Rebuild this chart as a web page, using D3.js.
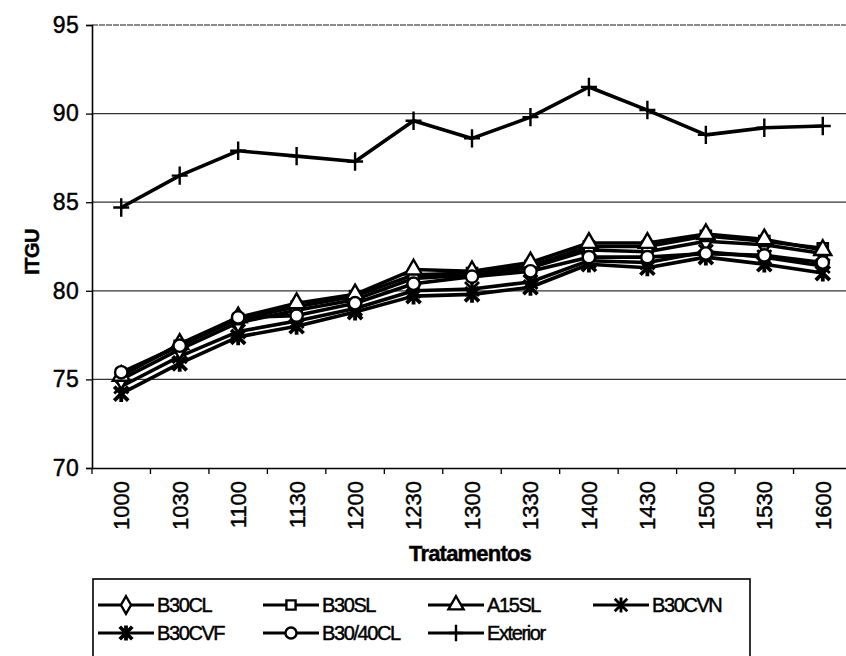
<!DOCTYPE html>
<html>
<head>
<meta charset="utf-8">
<script src="https://cdn.jsdelivr.net/npm/d3@7"></script>
<style>
  body { margin: 0; background: #fff; }
  text { font-family: "Liberation Sans", Arial, sans-serif; fill: #000; stroke: #000; stroke-width: 0.45; }
</style>
</head>
<body>
<script>
const categories = ["1000", "1030", "1100", "1130", "1200", "1230", "1300", "1330", "1400", "1430", "1500", "1530", "1600"];
const yTicks = [70, 75, 80, 85, 90, 95];

const b30cl   = [75.0, 76.7, 78.2, 78.9, 79.5, 80.7, 80.9, 81.3, 82.3, 82.2, 82.8, 82.6, 82.1];
const b30sl   = [75.3, 76.9, 78.4, 79.1, 79.7, 80.9, 81.0, 81.4, 82.5, 82.5, 83.1, 82.8, 82.4];
const a15sl   = [75.2, 77.0, 78.5, 79.3, 79.8, 81.2, 81.1, 81.6, 82.7, 82.7, 83.2, 82.9, 82.3];
const b30cvn  = [74.6, 76.3, 77.7, 78.3, 79.0, 80.0, 80.1, 80.5, 81.7, 81.6, 82.2, 81.9, 81.4];
const b30cvf  = [74.2, 75.9, 77.4, 78.0, 78.8, 79.7, 79.8, 80.2, 81.5, 81.3, 81.9, 81.5, 81.0];
const b3040cl = [75.4, 76.9, 78.5, 78.6, 79.3, 80.4, 80.8, 81.1, 81.9, 81.9, 82.1, 82.0, 81.6];
const exterior = [84.7, 86.5, 87.9, 87.6, 87.3, 89.6, 88.6, 89.8, 91.5, 90.2, 88.8, 89.2, 89.3];

const series = [
    { name: "B30CL", marker: "diamond", values: b30cl },
    { name: "B30SL", marker: "square", values: b30sl },
    { name: "A15SL", marker: "triangle", values: a15sl },
    { name: "B30CVN", marker: "star", values: b30cvn },
    { name: "B30CVF", marker: "starBold", values: b30cvf },
    { name: "B30/40CL", marker: "circle", values: b3040cl },
    { name: "Exterior", marker: "plus", values: exterior }
];
// drawing order in the plot (last one on top)
const drawOrder = ["Exterior", "B30CVF", "B30CVN", "B30CL", "B30SL", "A15SL", "B30/40CL"];

const margin = { top: 25, left: 92 };
const width = 760, height = 443;

const svg = d3.select("body").append("svg")
    .attr("width", 846)
    .attr("height", 656);

const g = svg.append("g")
    .attr("transform", `translate(${margin.left}, ${margin.top})`);

const x = d3.scaleBand().domain(categories).range([0, width]);
const y = d3.scaleLinear().domain([70, 95]).range([height, 0]);
const cx = c => x(c) + x.bandwidth() / 2;

// gridlines
g.selectAll(".grid")
    .data(yTicks.filter(d => d > 70 && d < 95))
    .enter().append("line")
    .attr("x1", 0).attr("x2", width)
    .attr("y1", d => y(d)).attr("y2", d => y(d))
    .attr("stroke", "#333").attr("stroke-width", 1.3);

// top border
g.append("line")
    .attr("x1", 0).attr("x2", width)
    .attr("y1", 0).attr("y2", 0)
    .attr("stroke", "#666").attr("stroke-width", 1.3)
    .attr("stroke-dasharray", "6,1");

// y axis
const yAxis = g.append("g")
    .call(d3.axisLeft(y).tickValues(yTicks).tickSize(6).tickPadding(7));
yAxis.select(".domain").attr("stroke", "#000").attr("stroke-width", 1.6);
yAxis.selectAll(".tick line").attr("stroke", "#000").attr("stroke-width", 1.3);
yAxis.selectAll("text")
    .attr("font-size", 23)
    .attr("font-family", "Liberation Sans, Arial, sans-serif")
    .attr("letter-spacing", 0.3);

// x axis
const xAxis = g.append("g")
    .attr("transform", `translate(0, ${height})`)
    .call(d3.axisBottom(x).tickSize(0).tickPadding(0));
xAxis.select(".domain").attr("stroke", "#000").attr("stroke-width", 1.6);
xAxis.selectAll("text")
    .attr("font-size", 22)
    .attr("font-family", "Liberation Sans, Arial, sans-serif")
    .attr("text-anchor", "end")
    .attr("transform", "rotate(-90)")
    .attr("x", -13)
    .attr("y", 0)
    .attr("dy", "0.36em");

// tick marks between categories
g.selectAll(".xtick")
    .data(categories)
    .enter().append("line")
    .attr("x1", d => x(d)).attr("x2", d => x(d))
    .attr("y1", height).attr("y2", height + 6)
    .attr("stroke", "#000").attr("stroke-width", 1.3);

// axis titles
svg.append("text")
    .attr("x", margin.left + width / 2 - 2)
    .attr("y", 561)
    .attr("text-anchor", "middle")
    .attr("font-size", 22)
    .attr("font-weight", "bold")
    .attr("letter-spacing", -0.8)
    .text("Tratamentos");

svg.append("text")
    .attr("transform", `translate(39, ${margin.top + y(82.2)}) rotate(-90)`)
    .attr("text-anchor", "middle")
    .attr("font-size", 20)
    .attr("font-weight", "bold")
    .attr("letter-spacing", -0.5)
    .text("ITGU");

function markerPath(type, s) {
    switch (type) {
        case "diamond": return d3.symbol(d3.symbolDiamond, 110 * s)();
        case "square": return d3.symbol(d3.symbolSquare, 105 * s)();
        case "triangle": return d3.symbol(d3.symbolTriangle, 125 * s)();
        case "circle": return d3.symbol(d3.symbolCircle, 120 * s)();
        case "star":
        case "starBold": {
            const r = 7 * Math.sqrt(s);
            return `M${-r},${-r}L${r},${r}M${-r},${r}L${r},${-r}M0,${-r * 1.2}V${r * 1.2}`;
        }
        case "plus": {
            const r = 8 * Math.sqrt(s);
            return `M${-r},0H${r}M0,${-r * 1.15}V${r * 1.15}`;
        }
    }
}

function drawMarker(sel, type, s) {
    const open = ["diamond", "square", "triangle", "circle"].includes(type);
    sel.append("path")
        .attr("d", markerPath(type, s))
        .attr("fill", open ? "#fff" : "none")
        .attr("stroke", "#000")
        .attr("stroke-width", type === "starBold" ? 3.8 : (type === "star" ? 2.8 : 2.4));
}

const line = d3.line()
    .x((d, i) => cx(categories[i]))
    .y(d => y(d));

drawOrder.forEach(name => {
    const s = series.find(d => d.name === name);
    g.append("path")
        .datum(s.values)
        .attr("d", line)
        .attr("fill", "none")
        .attr("stroke", "#000")
        .attr("stroke-width", 3.6)
        .attr("stroke-linejoin", "round");
});
drawOrder.forEach(name => {
    const s = series.find(d => d.name === name);
    s.values.forEach((v, i) => {
        const m = g.append("g").attr("transform", `translate(${cx(categories[i])}, ${y(v)})`);
        drawMarker(m, s.marker, 1);
    });
});

// legend
const legend = svg.append("g");
legend.append("rect")
    .attr("x", 93).attr("y", 579)
    .attr("width", 657).attr("height", 80)
    .attr("fill", "#fff")
    .attr("stroke", "#000").attr("stroke-width", 1.6);

const legendCols = 4, colW = 165, rowH = 28;
series.forEach((s, i) => {
    const col = i % legendCols, row = Math.floor(i / legendCols);
    const lg = legend.append("g")
        .attr("transform", `translate(${98 + col * colW}, ${605 + row * rowH})`);
    lg.append("line")
        .attr("x1", 0).attr("x2", 56)
        .attr("stroke", "#000").attr("stroke-width", 2.8);
    const m = lg.append("g").attr("transform", "translate(28, 0)");
    drawMarker(m, s.marker, 0.8);
    lg.append("text")
        .attr("x", 59)
        .attr("dy", "0.36em")
        .attr("font-size", 20)
        .attr("letter-spacing", -1.4)
        .text(s.name);
});
</script>
</body>
</html>
